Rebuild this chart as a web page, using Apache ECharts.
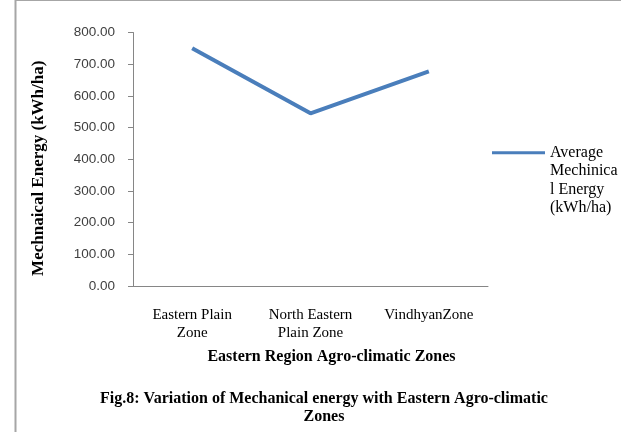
<!DOCTYPE html>
<html>
<head>
<meta charset="utf-8">
<script src="https://cdn.jsdelivr.net/npm/echarts@6/dist/echarts.min.js"></script>
<style>
  html, body { margin: 0; padding: 0; background: #ffffff; }
  #chart { width: 621px; height: 432px; }
</style>
</head>
<body>
<div id="chart"></div>
<script>
// Agro-climatic zones of the eastern region
const zones = ['Eastern Plain\nZone', 'North Eastern\nPlain Zone', 'VindhyanZone'];
// Average mechanical energy per zone (kWh/ha)
const mechEnergy = [750, 545, 677];
const seriesName = 'Average Mechinica l Energy (kWh/ha)';
const legendLines = ['Average', 'Mechinica', 'l Energy', '(kWh/ha)'];
const yTicks = { min: 0, max: 800, step: 100 };

const serif = '"Liberation Serif", "Times New Roman", serif';
const sans = '"Liberation Sans", Arial, sans-serif';

const chart = echarts.init(document.getElementById('chart'), null, { renderer: 'canvas' });

chart.setOption({
  backgroundColor: '#ffffff',
  animation: false,
  title: {
    text: 'Fig.8: Variation of Mechanical energy with Eastern Agro-climatic\nZones',
    left: 319,
    top: 385,
    textAlign: 'center',
    textStyle: {
      fontFamily: serif,
      fontSize: 16,
      fontWeight: 'bold',
      color: '#000000',
      lineHeight: 18
    }
  },
  graphic: [
    // page frame edges
    { type: 'line', shape: { x1: 15.5, y1: 0, x2: 15.5, y2: 432 }, style: { stroke: '#a6a6a6', lineWidth: 2 } },
    { type: 'line', shape: { x1: 15, y1: 0.5, x2: 621, y2: 0.5 }, style: { stroke: '#a6a6a6', lineWidth: 1 } }
  ],
  legend: {
    data: [seriesName],
    orient: 'vertical',
    left: 487,
    top: 83,
    icon: 'rect',
    itemWidth: 53,
    itemHeight: 3,
    // blank lines above keep the first text line level with the key line
    formatter: () => '\n\n\n' + legendLines.join('\n'),
    textStyle: {
      fontFamily: serif,
      fontSize: 16,
      color: '#000000',
      lineHeight: 18.5
    }
  },
  grid: {
    left: 133,
    right: 133,
    top: 32.5,
    bottom: 146,
    containLabel: false
  },
  xAxis: {
    type: 'category',
    data: zones,
    boundaryGap: true,
    axisLine: { lineStyle: { color: '#868686', width: 1 } },
    axisTick: { show: false },
    axisLabel: {
      fontFamily: serif,
      fontSize: 15,
      color: '#000000',
      lineHeight: 18,
      margin: 20,
      interval: 0
    },
    name: 'Eastern Region Agro-climatic Zones',
    nameLocation: 'middle',
    nameGap: 63,
    nameTextStyle: {
      fontFamily: serif,
      fontSize: 16,
      fontWeight: 'bold',
      color: '#000000',
      padding: [0, 0, 0, 42]
    }
  },
  yAxis: {
    type: 'value',
    min: yTicks.min,
    max: yTicks.max,
    interval: yTicks.step,
    axisLine: { show: true, lineStyle: { color: '#868686', width: 1 } },
    axisTick: { show: true, length: 5, lineStyle: { color: '#868686' } },
    splitLine: { show: false },
    axisLabel: {
      fontFamily: sans,
      fontSize: 13.5,
      color: '#404040',
      margin: 18,
      formatter: v => v.toFixed(2)
    },
    name: 'Mechnaical Energy (kWh/ha)',
    nameLocation: 'middle',
    nameGap: 86,
    nameRotate: 90,
    nameTextStyle: {
      fontFamily: serif,
      fontSize: 17,
      fontWeight: 'bold',
      color: '#000000',
      padding: [0, 18, 0, 0]
    }
  },
  series: [{
    name: seriesName,
    type: 'line',
    data: mechEnergy,
    symbol: 'none',
    lineStyle: { color: '#4a7ebb', width: 4 },
    itemStyle: { color: '#4a7ebb' }
  }]
});
</script>
</body>
</html>
